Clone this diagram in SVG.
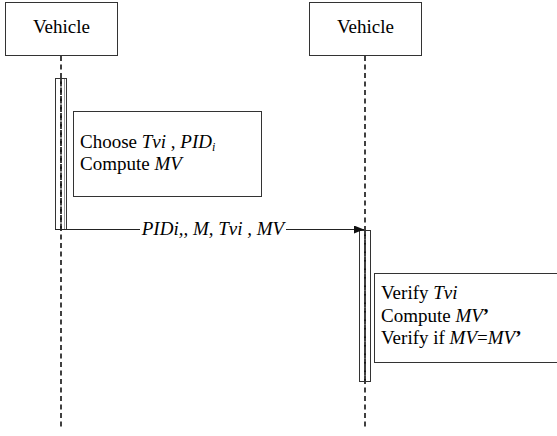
<svg xmlns="http://www.w3.org/2000/svg" width="557" height="436" viewBox="0 0 557 436" font-family="Liberation Serif">
  <defs>
    <marker id="arrow" viewBox="0 0 10 8" refX="10" refY="4" markerWidth="10" markerHeight="8" markerUnits="userSpaceOnUse" orient="auto">
      <path d="M0,0 L10,4 L0,8 Z" fill="#111"/>
    </marker>
  </defs>
  <g id="lifelines" stroke="#111" stroke-width="1.6" stroke-dasharray="5 3.5" fill="none">
    <line x1="61" y1="56" x2="61" y2="430"/>
    <line x1="365" y1="56" x2="365" y2="430"/>
  </g>
  <g id="vehicle-a">
    <rect x="5.5" y="2.5" width="112" height="53" fill="#fff" stroke="#333"/>
    <text x="61.5" y="33" font-family="Liberation Serif" font-size="19" text-anchor="middle">Vehicle</text>
  </g>
  <g id="vehicle-b">
    <rect x="309.5" y="2.5" width="112" height="53" fill="#fff" stroke="#333"/>
    <text x="365.5" y="33" font-family="Liberation Serif" font-size="19" text-anchor="middle">Vehicle</text>
  </g>
  <g id="activation-a">
    <rect x="55.5" y="78.5" width="11" height="151" fill="none" stroke="#333"/>
    <line x1="64.5" y1="79" x2="64.5" y2="229" stroke="#999" stroke-width="1"/>
    <line x1="61" y1="79" x2="61" y2="229" stroke="#111" stroke-width="1.6" stroke-dasharray="5 3.5"/>
  </g>
  <g id="activation-b">
    <rect x="359.5" y="230.5" width="11" height="151" fill="none" stroke="#333"/>
    <line x1="365" y1="231" x2="365" y2="381" stroke="#111" stroke-width="1.6" stroke-dasharray="5 3.5"/>
  </g>
  <g id="note-a">
    <rect x="73.5" y="111.5" width="188" height="85" fill="#fff" stroke="#333"/>
    <text x="80" y="148" font-family="Liberation Serif" font-size="19">Choose <tspan font-style="italic">Tvi</tspan> , <tspan font-style="italic">PID</tspan><tspan font-style="italic" font-size="12" dy="3">i</tspan></text>
    <text x="80" y="170" font-family="Liberation Serif" font-size="19">Compute <tspan font-style="italic">MV</tspan></text>
  </g>
  <g id="note-b">
    <rect x="374.5" y="273.5" width="190" height="89" fill="#fff" stroke="#333"/>
    <text x="381" y="299" font-family="Liberation Serif" font-size="19">Verify <tspan font-style="italic">Tvi</tspan></text>
    <text x="381" y="322" font-family="Liberation Serif" font-size="19">Compute <tspan font-style="italic">MV</tspan><tspan font-weight="bold">’</tspan></text>
    <text x="381" y="344" font-family="Liberation Serif" font-size="19">Verify if <tspan font-style="italic">MV</tspan>=<tspan font-style="italic">MV</tspan><tspan font-weight="bold">’</tspan></text>
  </g>
  <g id="connectors">
    <line x1="55" y1="229.5" x2="140" y2="229.5" stroke="#222"/>
    <line x1="286" y1="229.5" x2="364" y2="229.5" stroke="#222" marker-end="url(#arrow)"/>
    <text x="213" y="235" font-family="Liberation Serif" font-size="19" font-style="italic" text-anchor="middle">PIDi,, M, Tvi , MV</text>
  </g>
</svg>
